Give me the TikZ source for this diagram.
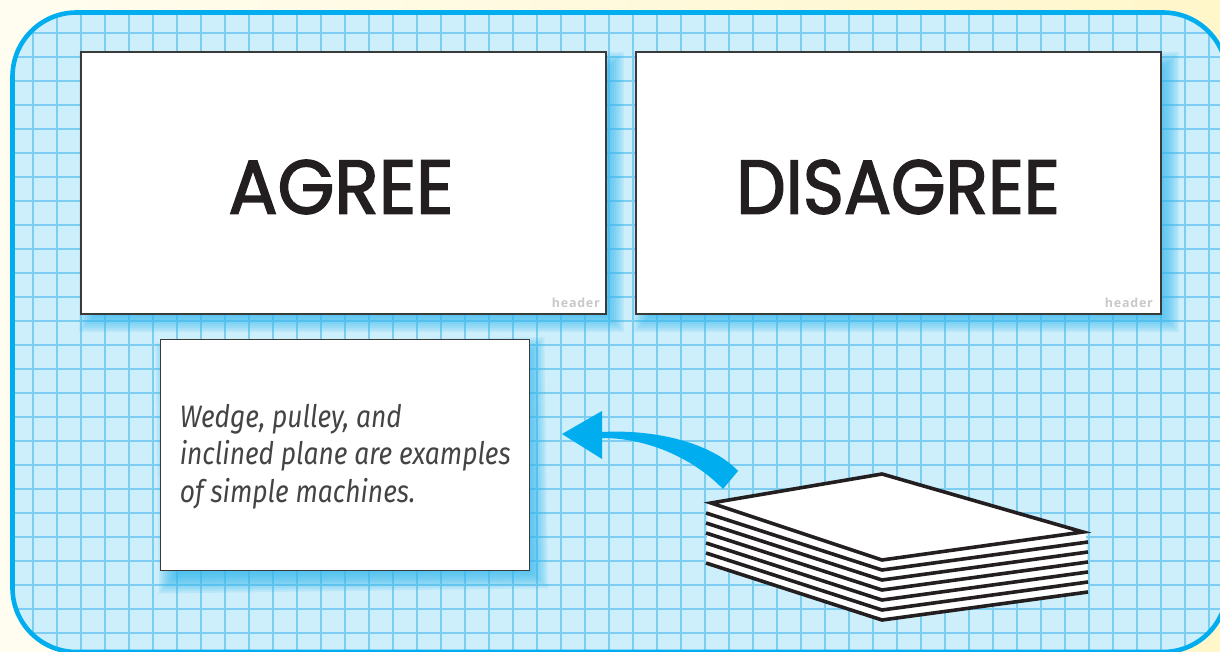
\documentclass[tikz,border=0pt]{standalone}
\usepackage{fontspec}
\setmainfont{Liberation Sans}
\newfontfamily\bigfont{Poppins}[FakeBold=2.2]
\newfontfamily\hdrfont{Open Sans}[LetterSpace=6]
\newfontfamily\handfont{Fira Sans}
\usetikzlibrary{calc}
\definecolor{creamL}{HTML}{FFFDF0}
\definecolor{creamR}{HTML}{FFF6CA}
\definecolor{boardblue}{HTML}{00AEEF}
\definecolor{boardfill}{HTML}{CDEEFB}
\definecolor{gridblue}{HTML}{7CCDEF}
\definecolor{shadowblue}{HTML}{35B9EE}
\definecolor{cardedge}{HTML}{3A3A3A}
\definecolor{hdrgray}{HTML}{C8C8C8}
\definecolor{inkblack}{HTML}{231F20}
\definecolor{handink}{HTML}{444444}
\tikzset{
  card/.style={draw=cardedge, line width=1.3pt, fill=white, inner sep=0pt},
  bigword/.style={font=\bigfont\fontsize{76}{76}\selectfont, text=inkblack, inner sep=0pt},
  hdr/.style={font=\hdrfont\bfseries\fontsize{12.5}{13}\selectfont, text=hdrgray, inner sep=0pt},
  stackline/.style={draw=inkblack, line width=3.6pt, line join=miter},
  gridline/.style={draw=gridblue, line width=1.25pt},
}
\newcommand\softshadow[2]{%
  \foreach \e in {10,8,...,-10}{%
    \fill[shadowblue,opacity=0.13] ($(#1)+(-\e,-\e)$) rectangle ($(#2)+(\e,\e)$);}%
}
\begin{document}
\begin{tikzpicture}[x=1pt,y=-1pt]
\useasboundingbox (0,0) rectangle (1220,652);
% background
\shade[left color=creamL, right color=creamR] (0,0) rectangle (1220,652);
% board
\begin{scope}
  \clip[rounded corners=64pt] (12.5,12.5) rectangle (1227,652);
  \fill[boardfill] (0,0) rectangle (1240,670);
  \foreach \i in {0,...,51} \draw[gridline] ({9+24*\i},0) -- ({9+24*\i},670);
  \foreach \j in {0,...,27} \draw[gridline] (0,{9+24*\j}) -- (1240,{9+24*\j});
\end{scope}
\draw[boardblue, line width=4.6pt, rounded corners=64pt] (12.5,12.5) rectangle (1227,652);

% shadows of top cards
\coordinate (sa1) at (89,62);  \coordinate (sa2) at (614,322);
\coordinate (sd1) at (644,62); \coordinate (sd2) at (1169,322);
\softshadow{sa1}{sa2}
\softshadow{sd1}{sd2}

% top cards
\node[card, minimum width=525pt, minimum height=262pt] (agree) at (343.5,183) {};
\node[card, minimum width=525pt, minimum height=262pt] (disagree) at (898.5,183) {};
\node[bigword] (agreetxt) at (341,187) {\scalebox{0.96}[1]{AGREE}};
\node[bigword] (disagreetxt) at (898,187) {\scalebox{0.92}[1]{DISAGREE}};
\node[hdr, anchor=base east] (hdra) at (600,307) {header};
\node[hdr, anchor=base east] (hdrd) at (1153,307) {header};

% tilted note card
\begin{scope}[rotate around={0.8:(345,455)}]
  \coordinate (sn1) at (167,350); \coordinate (sn2) at (536,581);
  \softshadow{sn1}{sn2}
  \node[card, minimum width=369pt, minimum height=231pt] (note) at (345,455) {};
  \node[anchor=base west, inner sep=0pt, text=handink,
        font=\handfont\itshape\fontsize{31}{37.5}\selectfont] (notetxt) at (180,425)
    {\scalebox{0.85}[1]{\begin{tabular}[t]{@{}l@{}}Wedge, pulley, and\\inclined plane are examples\\of simple machines.\end{tabular}}};
\end{scope}

% curved arrow from stack to note
\coordinate (tip) at (562,434);
\coordinate (tail) at (730,480);
\fill[boardblue] (tip) -- (602,411) -- (602,432)
  .. controls (655,429) and (712,443) .. (738,471) -- (723,489)
  .. controls (695,460) and (650,438) .. (602,438) -- (602,459) -- cycle;

% stack of paper
\fill[white] (708,503) -- (882,474) -- (1086,532) -- (1088,592) -- (882,620) -- (706,563) -- cycle;
\foreach \k in {1,...,6}{
  \draw[stackline] (706,{503+10*\k}) -- (882,{560+10*\k}) -- (1088,{532+10*\k});
}
\draw[stackline] (711,503) -- (882,474) -- (1083,532) -- (882,560) -- cycle;
\end{tikzpicture}
\end{document}
